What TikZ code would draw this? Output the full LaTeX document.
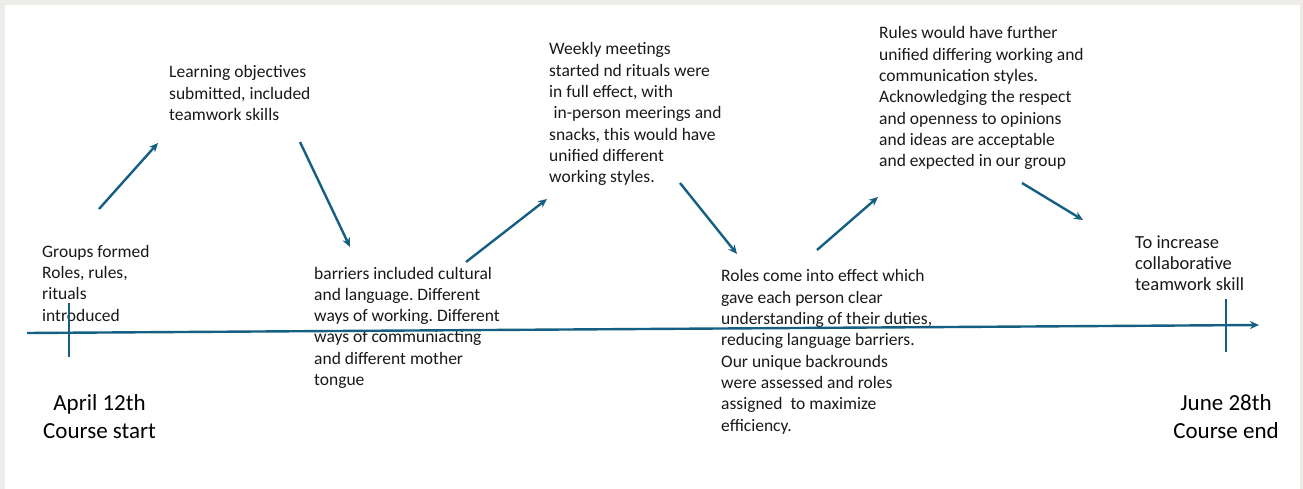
\documentclass[tikz,border=0pt]{standalone}
\usepackage{fontspec}
\setmainfont{Carlito}
\usetikzlibrary{arrows.meta}
\frenchspacing
\definecolor{tl}{HTML}{156082}
\definecolor{fr}{HTML}{EDECE8}
\tikzset{ev/.style = {anchor=base west, align=left, inner sep=0pt, text=black!90, font=\fontsize{17.5}{21.3}\selectfont},
         dt/.style = {anchor=base, align=center, inner sep=0pt, text=black, font=\fontsize{23}{28}\selectfont},
         ar/.style = {->, line width=2.4pt, draw=tl},
         ax/.style = {line width=2.4pt, draw=tl}}

\begin{document}
\begin{tikzpicture}[x=1pt, y=-1pt, >={Stealth[length=9pt, width=8pt]}]
    \fill[fr] (0,0) rectangle (1303,489);
    \fill[white] (5,5) rectangle (1300,489);
    \useasboundingbox (0,0) rectangle (1303,489);
    % base = last line of each text
    \node[ev] (grp) at (42,321) {Groups formed\\Roles, rules,\\rituals\\introduced};
    \node[ev] (obj) at (169,120.6) {Learning objectives\\submitted, included\\teamwork skills};
    \node[ev] (bar) at (314,385.5) {barriers included cultural\\and language. Different\\ways of working. Different\\ways of communiacting\\and different mother\\tongue};
    \node[ev] (wkl) at (549,182.8) {Weekly meetings\\started nd rituals were\\in full effect, with\\\hspace{0.25em}in-person meerings and\\snacks, this would have\\unified different\\working styles.};
    \node[ev] (rol) at (721,431) {Roles come into effect which\\gave each person clear\\understanding of their duties,\\reducing language barriers.\\Our unique backrounds\\were assessed and roles\\assigned\ \ to maximize\\efficiency.};
    \node[ev] (rul) at (879,166.8) {Rules would have further\\unified differing working and\\communication styles.\\Acknowledging the respect\\and openness to opinions\\and ideas are acceptable\\and expected in our group};
    \node[ev, font=\fontsize{18.5}{21.3}\selectfont] (inc) at (1135,290.6) {To increase\\collaborative\\teamwork skill};
    \node[dt] (beg) at (99.5,438) {April 12th\\Course start};
    \node[dt] (fin) at (1226,438) {June 28th\\Course end};
    \coordinate (t0) at (27,333);
    \coordinate (t1) at (1259,325);
    \coordinate (s0) at (69,303);
    \coordinate (s1) at (69,357);
    \coordinate (e0) at (1226,299);
    \coordinate (e1) at (1226,352);
    \coordinate (a1) at (99,209);
    \coordinate (b1) at (158,143);
    \coordinate (a2) at (300,142);
    \coordinate (b2) at (350,247);
    \coordinate (a3) at (466,262);
    \coordinate (b3) at (547,199);
    \coordinate (a4) at (680,183);
    \coordinate (b4) at (737,254);
    \coordinate (a5) at (817,250);
    \coordinate (b5) at (878,197);
    \coordinate (a6) at (1022,183);
    \coordinate (b6) at (1083,220);
    \draw[ax, ->] (t0) to (t1);
    \draw[ax] (s0) to (s1);
    \draw[ax] (e0) to (e1);
    \draw[ar] (a1) to (b1);
    \draw[ar] (a2) to (b2);
    \draw[ar] (a3) to (b3);
    \draw[ar] (a4) to (b4);
    \draw[ar] (a5) to (b5);
    \draw[ar] (a6) to (b6);
\end{tikzpicture}
\end{document}
